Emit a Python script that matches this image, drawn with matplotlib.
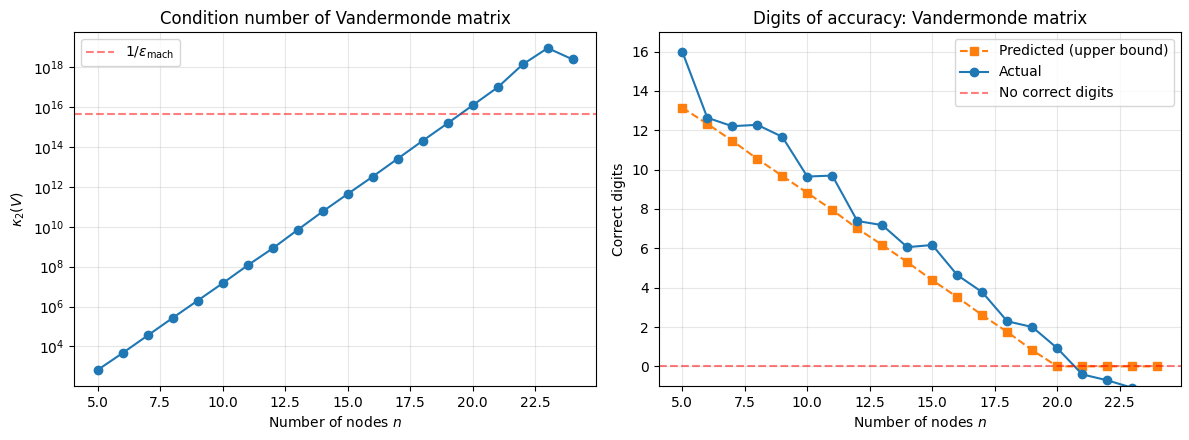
import numpy as np
import matplotlib
matplotlib.use("Agg")
import matplotlib.pyplot as plt

n_vals = list(range(5, 25))
log10_kappa = [2.82, 3.67, 4.55, 5.43, 6.30, 7.17, 8.07, 8.92, 9.85, 10.77,
               11.65, 12.52, 13.42, 14.32, 15.20, 16.10, 17.00, 18.15, 18.97, 18.40]
predicted = [13.15, 12.33, 11.47, 10.55, 9.68, 8.82, 7.95, 7.01, 6.17, 5.30,
             4.38, 3.52, 2.60, 1.75, 0.82, 0.0, 0.0, 0.0, 0.0, 0.0]
actual = [16.0, 12.64, 12.21, 12.28, 11.67, 9.65, 9.70, 7.39, 7.18, 6.06,
          6.17, 4.64, 3.77, 2.29, 2.00, 0.92, -0.41, -0.71, -1.09, -1.40]
eps_mach = 2.0 ** -52

kappa = [10 ** v for v in log10_kappa]

fig, (ax1, ax2) = plt.subplots(1, 2, figsize=(11.89, 4.4), dpi=100)
fig.subplots_adjust(left=0.0622, right=0.9933, top=0.9273, bottom=0.1227, wspace=0.1188)

ax1.semilogy(n_vals, kappa, 'o-', color='C0')
ax1.axhline(1 / eps_mach, color='r', linestyle='--', alpha=0.5, label=r'$1/\varepsilon_{\rm mach}$')
ax1.set_xlabel('Number of nodes $n$')
ax1.set_ylabel(r'$\kappa_2(V)$')
ax1.set_title('Condition number of Vandermonde matrix')
ax1.grid(True, alpha=0.3)
ax1.legend(loc='upper left')

ax2.plot(n_vals, predicted, 's--', color='C1', label='Predicted (upper bound)')
ax2.plot(n_vals, actual, 'o-', color='C0', label='Actual')
ax2.axhline(0, color='r', linestyle='--', alpha=0.5, label='No correct digits')
ax2.set_xlabel('Number of nodes $n$')
ax2.set_ylabel('Correct digits')
ax2.set_title('Digits of accuracy: Vandermonde matrix')
ax2.set_ylim(-1, 17)
ax2.grid(True, alpha=0.3)
ax2.legend(loc='upper right')

fig.savefig('out.png', dpi=100)
